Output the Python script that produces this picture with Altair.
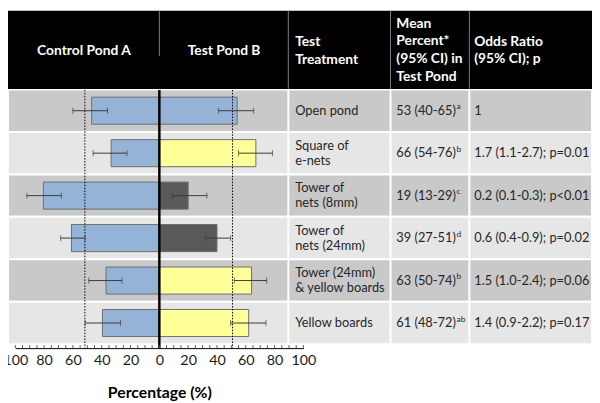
import altair as alt
import pandas as pd
import numpy as np

# ---------------- data ----------------
treatments = ["Open pond", "Square of e-nets", "Tower of nets (8mm)",
              "Tower of nets (24mm)", "Tower (24mm) & yellow boards", "Yellow boards"]
treatment_labels = ["Open pond", "Square of\ne-nets", "Tower of\nnets (8mm)",
                    "Tower of\nnets (24mm)", "Tower (24mm)\n& yellow boards", "Yellow boards"]
control_mean = [47, 33.5, 80.5, 61, 37, 39.5]
control_low = [36, 22.5, 68, 51.5, 26, 27]
control_high = [60, 46, 92, 68.5, 49, 51.5]
test_mean = [54, 67, 20, 40, 64, 62]
test_low = [41, 55, 9, 32, 52, 49.5]
test_high = [65.5, 78.5, 33, 49.5, 74.5, 74]
test_kind = ["Open", "Yellow", "Dark", "Dark", "Yellow", "Yellow"]
mean_text = ["53 (40-65)", "66 (54-76)", "19 (13-29)",
             "39 (27-51)", "63 (50-74)", "61 (48-72)"]
mean_letters = ["a", "b", "c", "d", "b", "ab"]
odds_text = ["1", "1.7 (1.1-2.7); p=0.01", "0.2 (0.1-0.3); p<0.01",
             "0.6 (0.4-0.9); p=0.02", "1.5 (1.0-2.4); p=0.06", "1.4 (0.9-2.2); p=0.17"]
row_shade = ["dark", "light", "dark", "light", "dark", "light"]
ref_control = 51.7
ref_test = 50.8
axis_labels = [-100, -80, -60, -40, -20, 0, 20, 40, 60, 80, 100]
minor_ticks = list(range(-100, 101, 5))
header_labels = ["Control Pond A", "Test Pond B", "Test\nTreatment",
                 "Mean\nPercent*\n(95% CI) in\nTest Pond", "Odds Ratio\n(95% CI); p"]

# ---------------- layout ----------------
SX = 592 / 600
SY = 395 / 403
def px(v): return v * SX
def py(v): return v * SY

W = 592
H = py(349)
FONT = "Lato"
LINE = py(15.5)

parts = [t.split("\n") for t in treatment_labels]
df = pd.DataFrame({
    "treatment": treatments,
    "line1": [p[0] for p in parts],
    "line2": [p[1] if len(p) > 1 else "" for p in parts],
    "mean_text": mean_text,
    "letters": mean_letters,
    "odds_text": odds_text,
    "shade": row_shade,
    "control": -np.array(control_mean, dtype=float),
    "c_lo": -np.array(control_low, dtype=float),
    "c_hi": -np.array(control_high, dtype=float),
    "test": np.array(test_mean, dtype=float),
    "t_lo": np.array(test_low, dtype=float),
    "t_hi": np.array(test_high, dtype=float),
    "kind": test_kind,
})

XS = alt.Scale(domain=[-100, 100], range=[px(7.5), px(303.5)], nice=False, zero=False)
AX = alt.Axis(values=axis_labels, labelExpr="abs(datum.value)", ticks=False, grid=False,
              domain=True, domainColor="black", domainWidth=1,
              labelFontSize=14.5, labelColor="#1a1a1a", labelPadding=6, labelFont=FONT,
              labelFlush=False, title="Percentage (%)", titleFontSize=16, titleFont=FONT,
              titleFontWeight="bold", titleColor="black", titlePadding=18)

def xenc(field):
    return alt.X(field, type="quantitative", scale=XS, axis=AX)

Y = alt.Y("treatment:N", sort=treatments,
          scale=alt.Scale(domain=treatments, range=[py(81.5), py(345)],
                          paddingInner=0, paddingOuter=0), axis=None)

base = alt.Chart(df)
one = alt.Chart(pd.DataFrame({"zero": [0]}))

layers = []

# row backgrounds
layers.append(base.mark_rect(stroke="white", strokeWidth=2).encode(
    y=Y, x=alt.value(0), x2=alt.value(W),
    color=alt.Color("shade:N", scale=alt.Scale(domain=["dark", "light"],
                                               range=["#c9c9c9", "#e6e6e6"]), legend=None)))

# header block
layers.append(one.mark_rect(color="black").encode(
    x=alt.value(0), x2=alt.value(W), y=alt.value(0), y2=alt.value(py(81))))

# column dividers
for cx in [288, 393, 474]:
    layers.append(one.mark_rule(color="#808080", strokeWidth=1).encode(
        x=alt.value(px(cx)), y=alt.value(0), y2=alt.value(py(81))))
    layers.append(one.mark_rule(color="white", strokeWidth=2).encode(
        x=alt.value(px(cx)), y=alt.value(py(81)), y2=alt.value(py(345))))

# header centre line
layers.append(one.mark_rule(color="#808080", strokeWidth=1).encode(
    x=xenc("zero"), y=alt.value(0), y2=alt.value(py(47))))

# bars
layers.append(base.mark_bar(size=py(28), stroke="#6e6e6e", strokeWidth=1,
                            color="#95b3d7").encode(x=xenc("control"), y=Y))
layers.append(base.mark_bar(size=py(28), stroke="#6e6e6e", strokeWidth=1).encode(
    x=xenc("test"), y=Y,
    color=alt.Color("kind:N", scale=alt.Scale(domain=["Open", "Yellow", "Dark"],
                                              range=["#95b3d7", "#ffff99", "#595959"]),
                    legend=None)))

# dotted reference lines
refs = alt.Chart(pd.DataFrame({"ref": [-ref_control, ref_test]}))
layers.append(refs.mark_rule(color="black", strokeWidth=1, strokeDash=[1.5, 1.5]).encode(
    x=xenc("ref"), y=alt.value(py(82)), y2=alt.value(H)))

# error bars
layers.append(base.mark_rule(color="#3a3a3a", strokeWidth=1).encode(
    x=xenc("c_lo"), x2="c_hi:Q", y=Y))
layers.append(base.mark_rule(color="#3a3a3a", strokeWidth=1).encode(
    x=xenc("t_lo"), x2="t_hi:Q", y=Y))
layers.append(base.transform_fold(["c_lo", "c_hi", "t_lo", "t_hi"], as_=["end", "pos"])
              .mark_tick(color="#3a3a3a", thickness=1, size=6).encode(x=xenc("pos"), y=Y))

# centre line
layers.append(one.mark_rule(color="black", strokeWidth=2.5).encode(
    x=xenc("zero"), y=alt.value(py(82)), y2=alt.value(H)))

# axis ticks (pointing up)
ticks = alt.Chart(pd.DataFrame({"tick": minor_ticks}))
layers.append(ticks.mark_rule(color="#555555", strokeWidth=1).encode(
    x=xenc("tick"), y=alt.value(H - 3), y2=alt.value(H)))

# header text (y = first line)
hdr_pos = [(78, 42, "center", 19), (222, 42, "center", 19), (295, 32, "left", 19.5),
           (399, 13.5, "left", 18.3), (479, 32, "left", 18)]
for lab, (hx, hy, al, lh) in zip(header_labels, hdr_pos):
    layers.append(one.mark_text(text=lab, font=FONT, fontSize=14, fontWeight="bold",
                                color="white", align=al, baseline="middle",
                                lineBreak="\n", lineHeight=py(lh)).encode(
        x=alt.value(px(hx)), y=alt.value(py(hy))))

# table body text
TXT = dict(font=FONT, fontSize=13, color="#262626", align="left", baseline="middle")
layers.append(base.transform_filter("datum.line2 == ''").mark_text(**TXT).encode(
    x=alt.value(px(295)), y=Y, text="line1:N"))
layers.append(base.transform_filter("datum.line2 != ''").mark_text(dy=-LINE / 2, **TXT).encode(
    x=alt.value(px(295)), y=Y, text="line1:N"))
layers.append(base.transform_filter("datum.line2 != ''").mark_text(dy=LINE / 2, **TXT).encode(
    x=alt.value(px(295)), y=Y, text="line2:N"))
for field, cx in [("mean_text", 399), ("odds_text", 479)]:
    layers.append(base.mark_text(**TXT).encode(
        x=alt.value(px(cx)), y=Y, text=f"{field}:N"))
# superscript significance letters
layers.append(base.mark_text(font=FONT, fontSize=8.5, color="#262626", align="left",
                             baseline="middle", dy=-4.5).encode(
    x=alt.value(px(399) + 61), y=Y, text="letters:N"))

chart = alt.layer(*layers).resolve_scale(color="independent").properties(
    width=W, height=H,
    padding={"left": 0, "top": 0, "right": 0, "bottom": 395 - H},
    autosize=alt.AutoSizeParams(type="none"),
    background="white",
).configure_view(stroke=None)

chart.save("out.html", embed_options={"renderer": "svg", "actions": False})
